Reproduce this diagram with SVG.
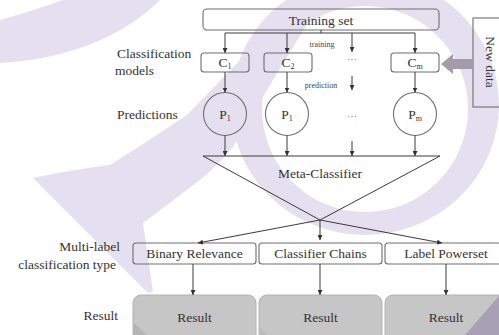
<svg xmlns="http://www.w3.org/2000/svg" width="499" height="335" viewBox="0 0 499 335">
  <defs>
    <style>
      text { font-family: "Liberation Serif", "Times New Roman", serif; fill: #333; }
      .lbl { font-size: 13.5px; }
      .mid { text-anchor: middle; }
      .end { text-anchor: end; }
      .small { font-size: 8px; fill: #444; }
      .box { fill: none; stroke: #6e6e6e; stroke-width: 1.1; }
      .circ { fill: none; stroke: #6e6e6e; stroke-width: 1.1; }
      .res { fill: #c6c6c6; stroke: #b2b2b2; stroke-width: 1; }
      .wm { fill: #e5e0ef; }
      .conn line { stroke: #3a3a3a; stroke-width: 1; fill: none; }
      .arr { marker-end: url(#ah); }
      .dots { font-size: 10px; fill: #777; }
    </style>
    <marker id="ah" viewBox="0 0 6 6" refX="6" refY="3" markerWidth="5" markerHeight="5" orient="auto" markerUnits="userSpaceOnUse">
      <path d="M0,0 L6,3 L0,6 z" fill="#333"/>
    </marker>
  </defs>

  <rect width="499" height="335" fill="#ffffff"/>

  <!-- background emblem -->
  <g id="emblem">
    <path class="wm" d="M0,20 Q35,10 63,0 L160,0 C120,40 60,60 0,63 Z"/>
    <path class="wm" d="M290,0 L322,0 L273,80 L233,147 Q215,168 200,180 L143,223 L153,292 L148,293 L33,178 Q70,170 110,165 Q150,140 187,115 L247,53 Z"/>
    <path class="wm" fill-rule="evenodd" d="M231,105 A134,130 0 1,0 499,105 A134,130 0 1,0 231,105 Z M262,109 A103,103 0 1,0 468,109 A103,103 0 1,0 262,109 Z"/>
  </g>

  <!-- training data -->
  <g id="training-set">
    <rect class="box" x="203" y="9" width="236" height="21" rx="4"/>
    <text class="lbl mid" x="321" y="24.5">Training set</text>
  </g>

  <g id="new-data">
    <rect class="box" x="473" y="18" width="40" height="89"/>
    <text class="lbl mid" transform="translate(486,62) rotate(90)">New data</text>
    <polygon points="441,64 453,54 453,59 473,59 473,69 453,69 453,74" fill="#a29cab"/>
  </g>

  <!-- classification models -->
  <g id="models-label">
    <text class="lbl" x="117" y="58">Classification</text>
    <text class="lbl" x="115" y="75">models</text>
  </g>
  <g id="c1">
    <rect class="box" x="201" y="53" width="48" height="19" rx="3"/>
    <text class="lbl mid" x="225" y="67">C<tspan font-size="8" dy="2">1</tspan></text>
  </g>
  <g id="c2">
    <rect class="box" x="264" y="53" width="48" height="19" rx="3"/>
    <text class="lbl mid" x="288" y="67">C<tspan font-size="8" dy="2">2</tspan></text>
  </g>
  <g id="cm">
    <rect class="box" x="391" y="53" width="48" height="19" rx="3"/>
    <text class="lbl mid" x="415" y="67">C<tspan font-size="8" dy="2">m</tspan></text>
  </g>
  <text class="dots mid" x="352" y="63">···</text>

  <!-- predictions -->
  <g id="predictions-label">
    <text class="lbl" x="117" y="119">Predictions</text>
  </g>
  <g id="p1">
    <circle class="circ" cx="225" cy="114" r="21.5"/>
    <text class="lbl mid" x="225" y="119">P<tspan font-size="8" dy="2">1</tspan></text>
  </g>
  <g id="p2">
    <circle class="circ" cx="287" cy="114" r="21.5"/>
    <text class="lbl mid" x="287" y="119">P<tspan font-size="8" dy="2">1</tspan></text>
  </g>
  <g id="pm">
    <circle class="circ" cx="415" cy="114" r="21.5"/>
    <text class="lbl mid" x="415" y="119">P<tspan font-size="8" dy="2">m</tspan></text>
  </g>
  <text class="dots mid" x="352" y="120">···</text>

  <!-- meta classifier -->
  <g id="meta-classifier">
    <text class="lbl mid" x="320" y="178">Meta-Classifier</text>
  </g>

  <!-- multi-label classification types -->
  <g id="type-label">
    <text class="lbl end" x="120" y="251">Multi-label</text>
    <text class="lbl end" x="116" y="269">classification type</text>
  </g>
  <g id="binary-relevance">
    <rect class="box" x="133" y="243" width="123" height="21" rx="3"/>
    <text class="lbl mid" x="194.5" y="258">Binary Relevance</text>
  </g>
  <g id="classifier-chains">
    <rect class="box" x="259" y="243" width="123" height="21" rx="3"/>
    <text class="lbl mid" x="320.5" y="258">Classifier Chains</text>
  </g>
  <g id="label-powerset">
    <rect class="box" x="385" y="243" width="118" height="21" rx="3"/>
    <text class="lbl mid" x="446" y="258">Label Powerset</text>
  </g>

  <!-- results -->
  <g id="result-label">
    <text class="lbl end" x="118" y="320">Result</text>
  </g>
  <g id="result-br">
    <rect class="res" x="133" y="295" width="123" height="50" rx="8"/>
    <polygon points="133,322 147,335 133,335" fill="#b4b4b4"/>
    <text class="lbl mid" x="194.5" y="322">Result</text>
  </g>
  <g id="result-cc">
    <rect class="res" x="259" y="295" width="123" height="50" rx="8"/>
    <polygon points="259,326 268,335 259,335" fill="#bcbcbc"/>
    <text class="lbl mid" x="320.5" y="322">Result</text>
  </g>
  <g id="result-lp">
    <rect class="res" x="385" y="295" width="124" height="50" rx="8"/>
    <polygon points="465,335 499,296 499,335" fill="#a8a1b6"/>
    <text class="lbl mid" x="446" y="322">Result</text>
  </g>

  <!-- connector labels -->
  <text class="small mid" x="322" y="47">training</text>
  <text class="small mid" x="321" y="88">prediction</text>

  <!-- connectors -->
  <g id="connectors" class="conn">
    <line x1="321" y1="30" x2="321" y2="33"/>
    <line x1="225" y1="33" x2="415" y2="33"/>
    <line class="arr" x1="225" y1="33" x2="225" y2="53"/>
    <line class="arr" x1="287" y1="33" x2="287" y2="53"/>
    <line class="arr" x1="352" y1="33" x2="352" y2="52"/>
    <line class="arr" x1="415" y1="33" x2="415" y2="53"/>

    <line class="arr" x1="225" y1="72" x2="225" y2="92.5"/>
    <line class="arr" x1="287" y1="72" x2="287" y2="92.5"/>
    <line class="arr" x1="352" y1="76" x2="352" y2="90"/>
    <line class="arr" x1="415" y1="72" x2="415" y2="92.5"/>

    <line class="arr" x1="225" y1="135.5" x2="225" y2="156"/>
    <line class="arr" x1="287" y1="135.5" x2="287" y2="156"/>
    <line class="arr" x1="352" y1="141" x2="352" y2="156"/>
    <line class="arr" x1="415" y1="135.5" x2="415" y2="156"/>

    <line x1="203" y1="156" x2="440" y2="156"/>
    <line x1="203" y1="156" x2="320" y2="220"/>
    <line x1="440" y1="156" x2="320" y2="220"/>
    <line class="arr" x1="320" y1="220" x2="198" y2="243"/>
    <line class="arr" x1="320" y1="220" x2="320" y2="240"/>
    <line class="arr" x1="320" y1="220" x2="442" y2="243"/>

    <line class="arr" x1="193" y1="264" x2="193" y2="295"/>
    <line class="arr" x1="320" y1="264" x2="320" y2="295"/>
    <line class="arr" x1="446" y1="264" x2="446" y2="295"/>
  </g>
</svg>
